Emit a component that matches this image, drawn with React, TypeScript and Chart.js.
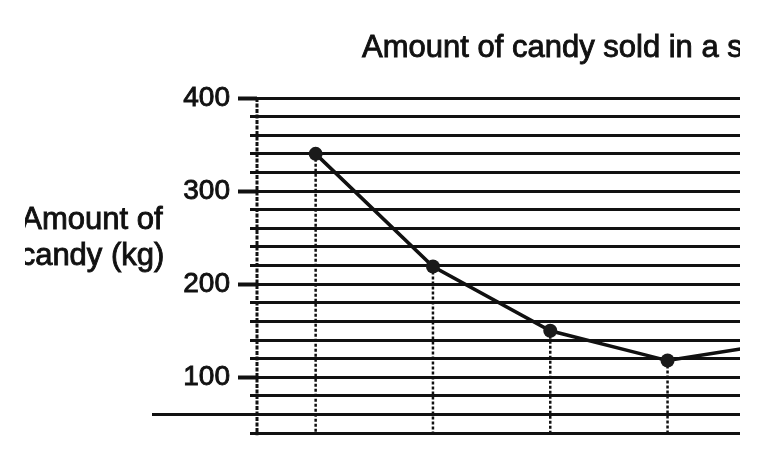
import React, { useEffect, useRef } from "react";
import { Chart, registerables } from "chart.js";

Chart.register(...registerables);

// ---- data ----
const titleText = "Amount of candy sold in a s";
const yTitleLines = ["Amount of", "candy (kg)"];
const pointIndex = [0, 1, 2, 3, 4];
const candySoldKg = [340, 219, 150, 118, 138];
const majorTickValues = [100, 200, 300, 400];
const minorTickStep = 20;
const yMin = 40;
const yMax = 400;
const axisBaseValue = 60;

const FONT = "'Liberation Sans', Arial, Helvetica, sans-serif";
const INK = "#111111";

export default function App() {
  const ref = useRef<HTMLCanvasElement>(null);

  useEffect(() => {
    const canvas = ref.current;
    if (!canvas) return;

    const mainData = pointIndex.map((x, i) => ({ x, y: candySoldKg[i] }));
    const dropData: { x: number; y: number | null }[] = [];
    pointIndex.forEach((x, i) => {
      dropData.push({ x, y: candySoldKg[i] }, { x, y: yMin }, { x, y: null });
    });

    const textPlugin = {
      id: "texts",
      beforeDatasetsDraw(chart: any) {
        const ctx = chart.ctx as CanvasRenderingContext2D;
        const area = chart.chartArea;
        ctx.save();
        // y axis line (densely dotted, like the scan)
        ctx.strokeStyle = "#111";
        ctx.lineWidth = 3;
        ctx.setLineDash([4, 1.5]);
        ctx.beginPath();
        ctx.moveTo(area.left, area.top);
        ctx.lineTo(area.left, area.bottom + 2);
        ctx.stroke();
        ctx.setLineDash([]);
        // base line extending left of the axis
        const y = chart.scales.y.getPixelForValue(axisBaseValue);
        ctx.strokeStyle = INK;
        ctx.lineWidth = 3;
        ctx.beginPath();
        ctx.moveTo(144, y);
        ctx.lineTo(area.left, y);
        ctx.stroke();
        ctx.restore();
      },
      afterDraw(chart: any) {
        const ctx = chart.ctx as CanvasRenderingContext2D;
        ctx.save();
        ctx.fillStyle = INK;
        ctx.strokeStyle = INK;
        ctx.lineWidth = 0.9;
        ctx.font = `31px ${FONT}`;
        ctx.textBaseline = "alphabetic";
        ctx.textAlign = "left";
        ctx.fillText(titleText, 354, 48.5);
        ctx.strokeText(titleText, 354, 48.5);
        ctx.textAlign = "center";
        ctx.fillText(yTitleLines[0], 84, 221);
        ctx.strokeText(yTitleLines[0], 84, 221);
        ctx.fillText(yTitleLines[1], 84, 257);
        ctx.strokeText(yTitleLines[1], 84, 257);
        ctx.restore();
      },
    };

    const chart = new Chart(canvas, {
      type: "line",
      data: {
        datasets: [
          {
            data: mainData,
            borderColor: INK,
            borderWidth: 3.5,
            pointRadius: 7,
            pointBackgroundColor: "#1a1a1a",
            pointBorderWidth: 0,
            tension: 0,
            order: 0,
          },
          {
            data: dropData as any,
            borderColor: "#111",
            borderWidth: 2.5,
            borderDash: [3, 2],
            pointRadius: 0,
            spanGaps: false,
            order: 1,
          },
        ],
      },
      options: {
        animation: false,
        responsive: false,
        layout: { padding: { left: 0, top: 90, right: 14.5, bottom: 24 } },
        plugins: {
          legend: { display: false },
          tooltip: { enabled: false },
          title: { display: false },
        },
        scales: {
          x: { type: "linear", min: -0.5, max: 4.5, display: false },
          y: {
            type: "linear",
            position: "left",
            weight: 0,
            min: yMin,
            max: yMax,
            ticks: { display: false, stepSize: minorTickStep },
            grid: {
              color: INK,
              lineWidth: 3,
              drawTicks: true,
              tickLength: 7,
              tickColor: INK,
              tickWidth: (c: any) =>
                c.tick && majorTickValues.includes(c.tick.value) ? 4 : 3,
            },
            border: { display: false },
            afterFit: (s: any) => {
              s.width = 7;
            },
          },
          yMajor: {
            type: "linear",
            position: "left",
            weight: 1,
            min: yMin,
            max: yMax,
            afterBuildTicks: (s: any) => {
              s.ticks = majorTickValues.map((v) => ({ value: v }));
            },
            ticks: {
              font: { family: FONT, size: 28 },
              color: INK,
              padding: 8,
              textStrokeColor: INK,
              textStrokeWidth: 0.9,
            },
            grid: {
              drawOnChartArea: false,
              drawTicks: true,
              tickLength: 12,
              tickColor: INK,
              tickWidth: 4,
            },
            border: { display: false },
            afterFit: (s: any) => {
              s.width = 242;
            },
          },
        },
      } as any,
      plugins: [textPlugin],
    });

    return () => chart.destroy();
  }, []);

  return (
    <div
      style={{
        position: "relative",
        width: 732,
        height: 440,
        overflow: "hidden",
        clipPath: "inset(0 0 0 17px)",
      }}
    >
      <canvas
        ref={ref}
        width={850}
        height={450}
        style={{ display: "block", width: 850, height: 450 }}
      />
    </div>
  );
}
